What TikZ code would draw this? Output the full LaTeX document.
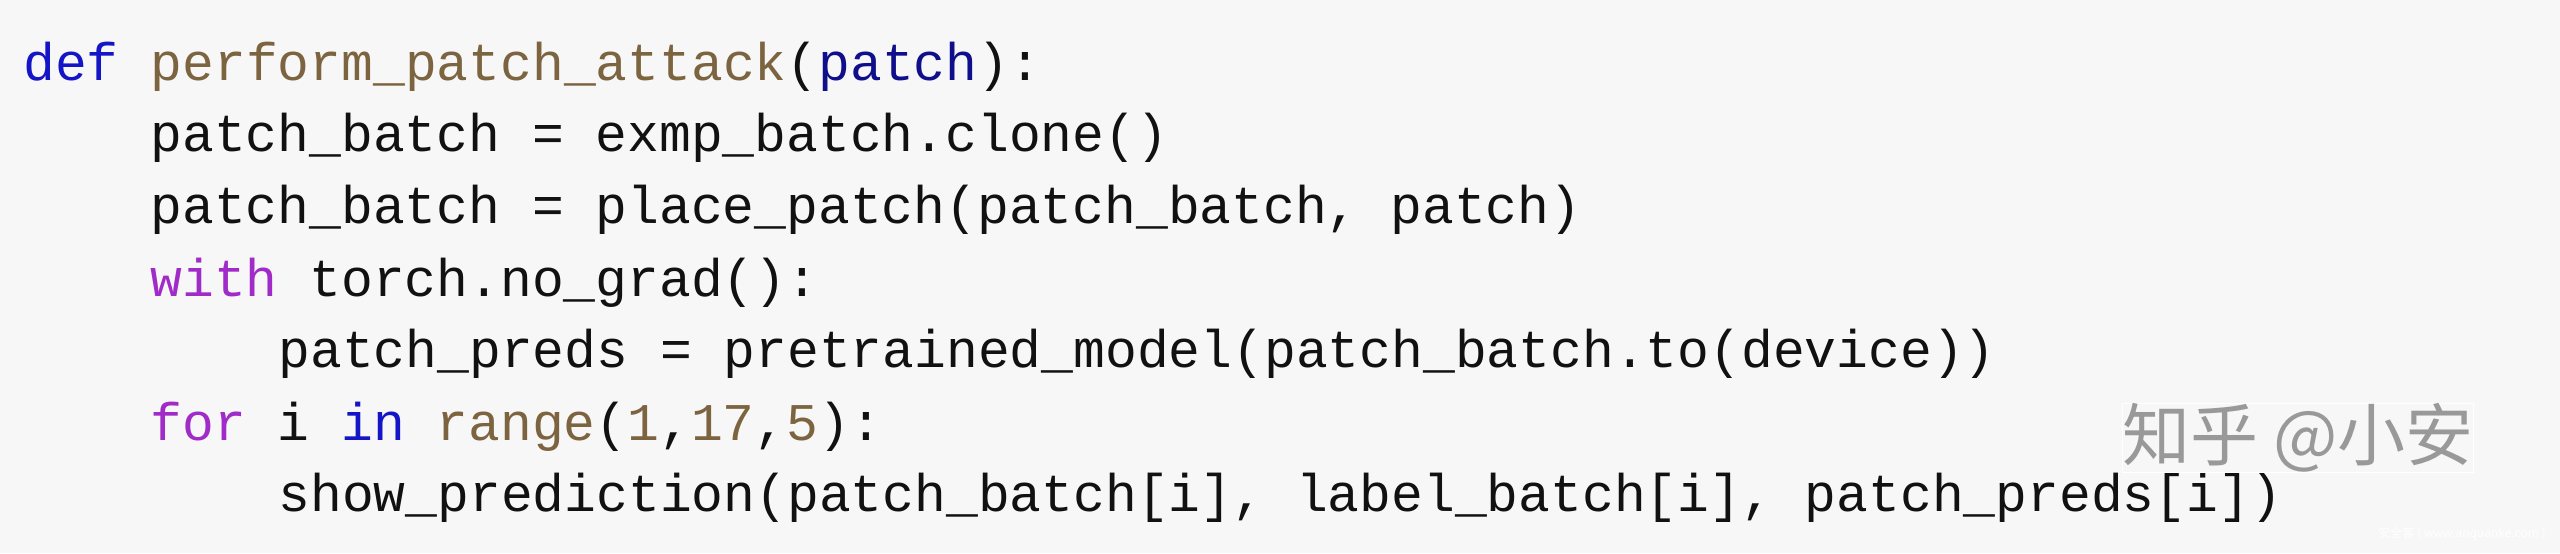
\documentclass[tikz,border=0pt]{standalone}
\usepackage{fontspec}
\newfontfamily\code{Liberation Mono}
\newfontfamily\cjk{Noto Sans CJK SC}
\definecolor{bg}{HTML}{F7F7F7}
\definecolor{kw}{HTML}{1515C8}
\definecolor{fn}{HTML}{7D6440}
\definecolor{pu}{HTML}{A02BC8}
\definecolor{ink}{HTML}{111111}
\tikzset{ln/.style={anchor=base west,inner sep=0pt,text=ink,font=\code\fontsize{26.5}{30}\selectfont}}
\begin{document}
\begin{tikzpicture}[x=1pt,y=-1pt]
\fill[bg] (0,0) rectangle (1280,276.5);
\useasboundingbox (0,0) rectangle (1280,276.5);
\node[ln] (l1) at (11.5,40) {\textcolor{kw}{def} \textcolor{fn}{perform\_patch\_attack}(\textcolor{kw!70!black}{patch}):};
\node[ln] (l2) at (75,75.5) {patch\_batch = exmp\_batch.clone()};
\node[ln] (l3) at (75,111.5) {patch\_batch = place\_patch(patch\_batch, patch)};
\node[ln] (l4) at (75,148) {\textcolor{pu}{with} torch.no\_grad():};
\node[ln] (l5) at (139,183.5) {patch\_preds = pretrained\_model(patch\_batch.to(device))};
\node[ln] (l6) at (75,220) {\textcolor{pu}{for} i \textcolor{kw}{in} \textcolor{fn}{range}(\textcolor{fn}{1},\textcolor{fn}{17},\textcolor{fn}{5}):};
\node[ln] (l7) at (139,255.5) {show\_prediction(patch\_batch[i], label\_batch[i], patch\_preds[i])};
\node[anchor=center,inner sep=0pt,font=\cjk\fontsize{34}{36}\selectfont,text=black!40,
  draw=white,line width=0.6pt] (wm) at (1149,219) {知乎 @小安};
\node[anchor=center,inner sep=0pt,font=\cjk\fontsize{6}{7}\selectfont,text=white] (wm2) at (1231,267) {安全客 ( www.anquanke.com )};
\end{tikzpicture}
\end{document}
